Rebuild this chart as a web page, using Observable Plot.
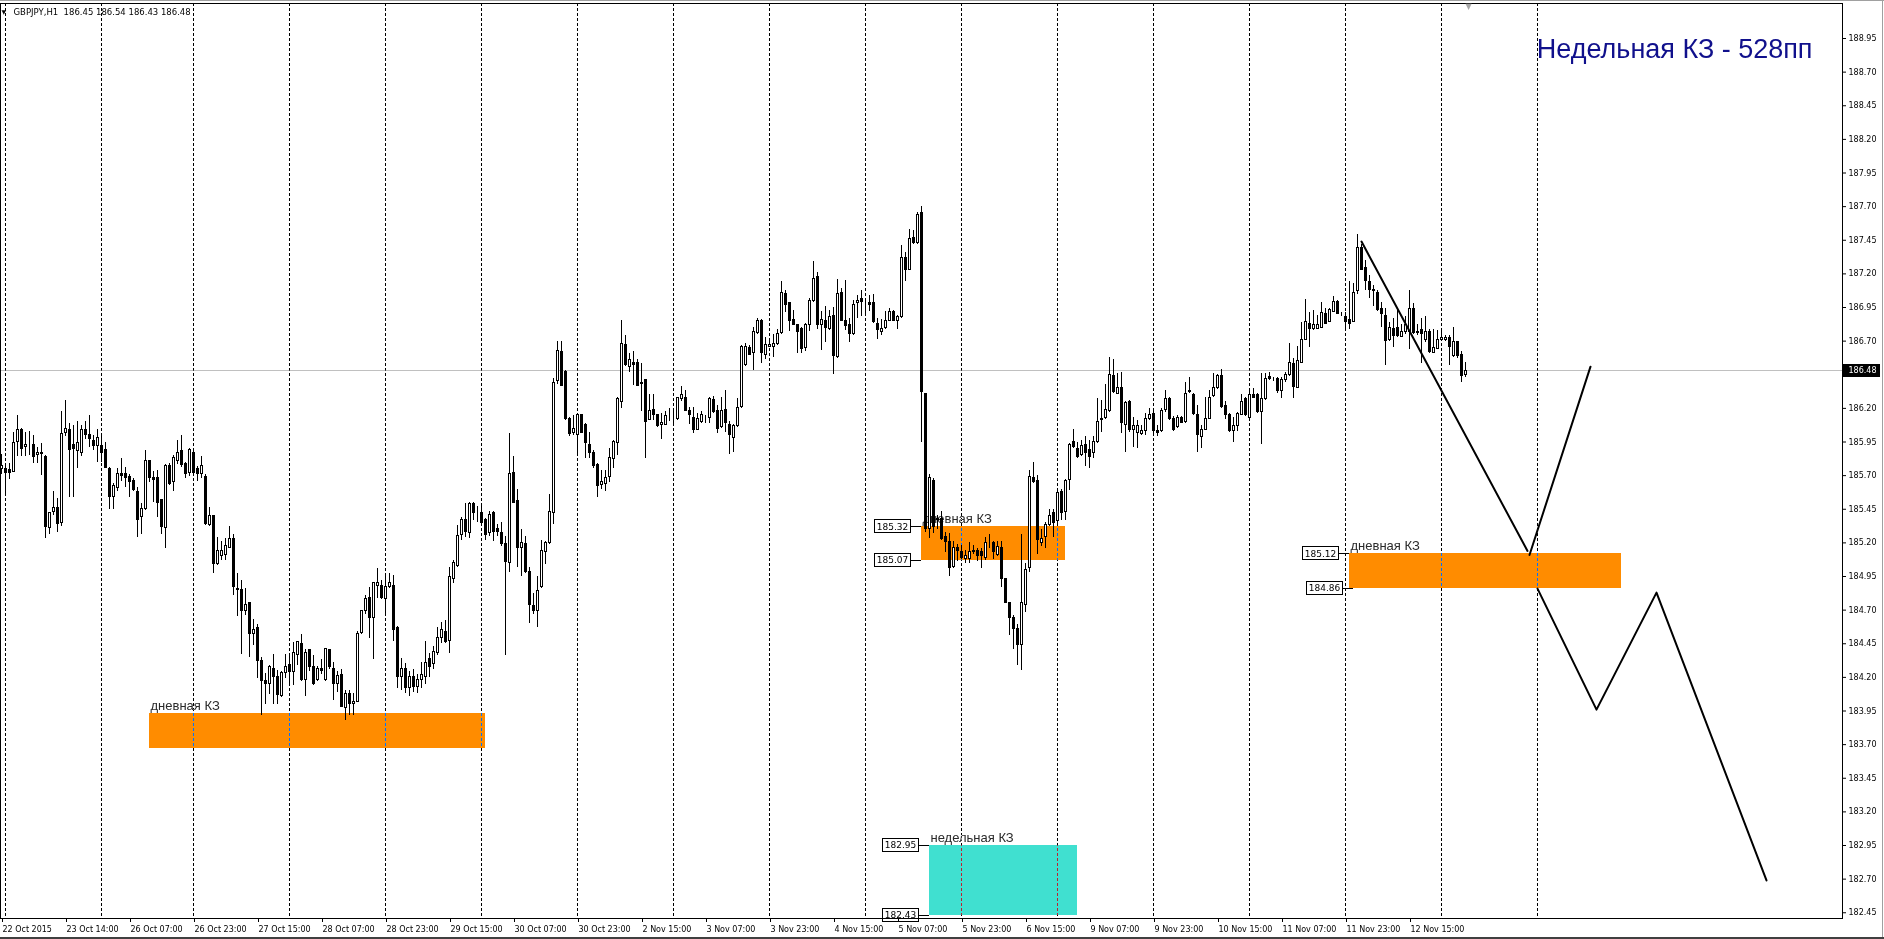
<!DOCTYPE html>
<html><head><meta charset="utf-8">
<script src="https://cdn.jsdelivr.net/npm/d3@7"></script>
<script src="https://cdn.jsdelivr.net/npm/@observablehq/plot@0.6"></script>
<style>
html,body{margin:0;padding:0;background:#fff;overflow:hidden}
#chart{position:relative;width:1884px;height:939px}
.b{position:absolute;background:#a0a0a0}
</style></head><body><div id="chart"></div>
<script>
const symbol = "GBPJPY,H1";
const openP = [
185.75,185.75,185.74,185.73,185.95,186.04,185.91,185.94,185.93,185.85,
185.87,185.84,185.31,185.43,185.46,185.35,186.02,186.04,185.93,185.88,
185.87,186.04,186.00,185.96,185.92,185.92,185.89,185.75,185.54,185.61,
185.71,185.71,185.69,185.66,185.58,185.39,185.45,185.81,185.68,185.68,
185.52,185.31,185.77,185.65,185.81,185.88,185.79,185.72,185.87,185.75,
185.71,185.69,185.33,185.40,185.04,185.10,185.11,185.16,185.23,184.86,
184.85,184.69,184.75,184.52,184.57,184.32,184.17,184.15,184.26,184.20,
184.06,184.23,184.29,184.24,184.37,184.45,184.18,184.40,184.28,184.18,
184.26,184.18,184.40,184.26,184.15,184.22,183.97,184.08,184.00,184.02,
184.53,184.69,184.79,184.64,184.88,184.88,184.78,184.87,184.88,184.57,
184.20,184.26,184.12,184.20,184.13,184.18,184.20,184.34,184.30,184.38,
184.49,184.54,184.47,184.93,185.03,185.26,185.37,185.27,185.49,185.42,
185.42,185.37,185.27,185.42,185.30,185.27,185.19,185.05,185.72,185.51,
185.16,185.19,184.98,184.73,184.69,184.87,185.13,185.20,185.42,186.40,
186.62,186.47,186.12,186.02,186.00,186.15,186.08,185.93,185.87,185.78,
185.63,185.64,185.69,185.82,185.94,186.25,186.67,186.51,186.54,186.54,
186.39,186.41,186.11,186.19,186.15,186.08,186.08,186.13,186.12,186.12,
186.27,186.28,186.18,186.13,186.04,186.10,186.13,186.13,186.26,186.18,
186.06,186.19,186.08,185.98,186.07,186.21,186.52,186.65,186.61,186.76,
186.85,186.60,186.66,186.66,186.68,186.76,187.05,186.98,186.86,186.82,
186.79,186.65,186.82,187.00,187.18,186.82,186.85,186.79,186.89,186.58,
187.06,186.85,186.82,186.75,186.98,187.01,186.97,186.98,186.98,186.83,
186.77,186.80,186.85,186.92,186.85,186.88,187.32,187.23,187.47,187.43,
187.65,186.31,185.30,185.66,185.37,185.38,185.24,185.21,185.02,185.16,
185.13,185.08,185.08,185.13,185.14,185.13,185.09,185.20,185.20,185.11,
185.16,184.93,184.75,184.64,184.56,184.44,184.74,185.01,185.68,185.66,
185.20,185.24,185.33,185.42,185.36,185.58,185.43,185.67,185.95,185.90,
185.85,185.93,185.89,185.87,185.95,186.12,186.13,186.18,186.44,186.31,
186.35,186.08,186.25,186.04,186.02,186.01,186.03,186.12,186.16,186.03,
186.03,186.19,186.27,186.12,186.06,186.13,186.10,186.33,186.30,186.15,
185.99,186.04,186.12,186.29,186.35,186.44,186.22,186.15,186.03,186.07,
186.15,186.27,186.13,186.30,186.30,186.17,186.27,186.43,186.42,186.42,
186.33,186.41,186.45,186.53,186.35,186.54,186.71,186.83,186.79,186.79,
186.80,186.90,186.84,186.92,186.99,186.89,186.88,186.86,186.84,187.07,
187.39,187.24,187.14,187.07,187.06,186.94,186.89,186.71,186.79,186.80,
186.73,186.77,186.77,186.94,186.77,186.78,186.71,186.77,186.61,186.64,
186.71,186.71,186.72,186.59,186.69,186.60,186.45];
const highP = [
185.86,185.78,185.79,186.02,186.15,186.05,186.02,186.03,186.00,185.91,
185.94,185.85,185.42,185.58,185.53,186.18,186.26,186.09,186.07,186.10,
186.07,186.10,186.15,186.00,186.04,186.00,185.95,185.76,185.64,185.75,
185.83,185.76,185.71,185.68,185.61,185.49,185.89,185.81,185.73,185.74,
185.52,185.78,185.79,185.85,185.96,186.00,185.80,185.90,185.89,185.77,
185.84,185.71,185.46,185.40,185.24,185.21,185.23,185.32,185.26,184.97,
184.92,184.86,184.76,184.63,184.59,184.35,184.23,184.29,184.37,184.25,
184.24,184.37,184.37,184.46,184.46,184.52,184.41,184.41,184.36,184.28,
184.33,184.41,184.40,184.31,184.24,184.26,184.10,184.10,184.08,184.54,
184.70,184.81,184.87,184.90,185.01,184.92,184.97,184.97,184.96,184.58,
184.34,184.30,184.24,184.26,184.22,184.31,184.47,184.38,184.43,184.57,
184.61,184.62,185.02,185.07,185.33,185.39,185.49,185.50,185.50,185.47,
185.47,185.38,185.43,185.43,185.34,185.35,185.25,186.01,185.84,185.60,
185.30,185.25,185.02,184.82,184.95,185.22,185.21,185.56,186.42,186.70,
186.70,186.48,186.13,186.15,186.15,186.15,186.09,186.02,185.89,185.79,
185.74,185.74,185.90,185.96,186.28,186.85,186.74,186.61,186.62,186.56,
186.53,186.41,186.30,186.30,186.15,186.16,186.18,186.20,186.20,186.28,
186.36,186.33,186.21,186.21,186.16,186.18,186.15,186.28,186.29,186.22,
186.28,186.33,186.10,186.08,186.27,186.67,186.68,186.67,186.80,186.87,
186.86,186.73,186.72,186.75,186.79,187.14,187.08,186.99,186.93,186.82,
186.80,186.83,187.02,187.29,187.21,186.92,186.96,186.93,186.95,187.16,
187.09,187.15,186.87,187.00,187.04,187.08,187.00,187.04,187.05,186.87,
186.86,186.92,186.94,186.93,186.89,187.41,187.36,187.53,187.52,187.66,
187.70,186.31,185.71,185.68,185.40,185.43,185.28,185.27,185.21,185.19,
185.18,185.14,185.20,185.18,185.16,185.16,185.24,185.26,185.21,185.21,
185.21,184.93,184.76,184.66,184.59,185.26,185.05,185.74,185.80,185.70,
185.30,185.35,185.45,185.45,185.59,185.60,185.67,185.94,186.04,185.95,
185.96,185.99,185.96,185.99,186.27,186.26,186.38,186.58,186.56,186.46,
186.47,186.25,186.26,186.13,186.11,186.07,186.16,186.20,186.18,186.07,
186.20,186.33,186.28,186.14,186.15,186.14,186.39,186.43,186.31,186.22,
186.07,186.28,186.33,186.46,186.45,186.49,186.25,186.16,186.13,186.17,
186.30,186.28,186.35,186.35,186.31,186.46,186.46,186.47,186.43,186.43,
186.43,186.47,186.68,186.57,186.66,186.84,187.01,186.91,186.93,186.89,
186.99,186.94,186.94,187.03,187.00,186.91,186.91,187.14,187.13,187.49,
187.42,187.30,187.19,187.11,187.08,186.99,186.94,186.84,186.87,186.94,
186.82,186.88,187.08,186.98,186.82,186.87,186.88,186.79,186.79,186.78,
186.77,186.74,186.74,186.80,186.69,186.62,186.54];
const lowP = [
185.71,185.57,185.67,185.72,185.84,185.84,185.84,185.85,185.79,185.79,
185.70,185.23,185.26,185.40,185.28,185.32,185.99,185.54,185.54,185.75,
185.84,185.97,185.91,185.89,185.80,185.80,185.75,185.45,185.45,185.58,
185.66,185.61,185.54,185.58,185.24,185.26,185.44,185.65,185.50,185.39,
185.26,185.16,185.63,185.58,185.78,185.76,185.68,185.69,185.70,185.66,
185.68,185.33,185.32,184.97,185.03,185.07,185.07,185.16,184.81,184.65,
184.37,184.66,184.35,184.44,184.19,183.92,184.00,184.07,184.00,184.00,
184.05,184.19,184.14,184.14,184.29,184.17,184.06,184.24,184.14,184.17,
184.22,184.17,184.26,184.03,184.09,183.98,183.88,183.92,183.92,184.01,
184.52,184.67,184.49,184.33,184.79,184.78,184.67,184.86,184.47,184.12,
184.10,184.08,184.06,184.09,184.08,184.12,184.15,184.20,184.26,184.36,
184.45,184.45,184.38,184.90,185.02,185.22,185.24,185.23,185.37,185.35,
185.33,185.22,185.25,185.21,185.25,185.17,184.36,184.98,185.49,185.02,
184.95,184.97,184.60,184.67,184.57,184.86,185.04,185.19,185.34,186.38,
186.37,186.11,185.99,186.00,185.84,186.01,185.83,185.83,185.75,185.54,
185.60,185.58,185.65,185.75,185.85,186.20,186.51,186.47,186.37,186.37,
186.18,185.83,186.11,186.11,186.06,185.97,186.08,186.10,186.08,186.11,
186.25,186.18,186.08,186.01,186.04,186.09,186.09,186.09,186.16,186.01,
186.05,186.02,185.86,185.87,186.06,186.20,186.51,186.59,186.48,186.75,
186.53,186.56,186.66,186.58,186.67,186.75,186.91,186.77,186.82,186.61,
186.61,186.62,186.77,186.99,186.79,186.63,186.69,186.78,186.45,186.57,
186.85,186.78,186.69,186.74,186.87,186.88,186.89,186.92,186.83,186.71,
186.74,186.79,186.85,186.85,186.79,186.87,187.14,187.23,187.42,187.42,
185.95,185.28,185.23,185.27,185.30,185.22,185.13,184.95,185.01,185.06,
185.08,185.05,185.05,185.11,185.06,185.01,185.07,185.16,185.08,185.10,
184.87,184.75,184.51,184.41,184.29,184.25,184.68,184.98,185.64,185.11,
185.17,185.16,185.32,185.24,185.33,185.37,185.37,185.59,185.90,185.83,
185.84,185.77,185.75,185.83,185.94,186.02,186.12,186.17,186.31,186.30,
186.01,185.87,186.02,185.91,185.90,186.00,186.00,186.11,185.99,185.99,
186.02,186.17,186.11,186.03,186.05,186.09,186.09,186.31,186.15,185.87,
185.90,186.04,186.12,186.28,186.34,186.20,186.12,186.02,185.95,186.03,
186.15,186.14,186.12,186.27,186.16,185.93,186.26,186.41,186.40,186.31,
186.27,186.39,186.44,186.27,186.35,186.53,186.71,186.65,186.78,186.79,
186.80,186.82,186.84,186.91,186.90,186.88,186.79,186.79,186.84,187.05,
187.23,187.08,187.02,186.96,186.92,186.80,186.52,186.70,186.65,186.73,
186.73,186.75,186.64,186.75,186.74,186.53,186.69,186.61,186.61,186.64,
186.70,186.70,186.52,186.58,186.57,186.39,186.43];
const closeP = [
185.77,185.72,185.72,185.94,186.04,185.90,185.93,185.94,185.84,185.87,
185.86,185.32,185.42,185.46,185.34,186.01,186.05,185.89,185.90,185.94,
186.04,186.00,185.97,185.92,185.98,185.87,185.76,185.54,185.62,185.71,
185.70,185.68,185.65,185.59,185.37,185.45,185.81,185.68,185.67,185.50,
185.32,185.77,185.64,185.83,185.87,185.78,185.71,185.89,185.72,185.71,
185.77,185.34,185.40,185.04,185.14,185.14,185.18,185.23,184.87,184.85,
184.69,184.74,184.52,184.55,184.32,184.17,184.15,184.28,184.20,184.07,
184.23,184.28,184.24,184.38,184.46,184.18,184.38,184.28,184.15,184.26,
184.25,184.41,184.28,184.15,184.21,183.98,184.08,184.00,184.02,184.52,
184.69,184.78,184.64,184.90,184.90,184.79,184.87,184.90,184.55,184.20,
184.26,184.12,184.20,184.13,184.18,184.22,184.31,184.28,184.39,184.49,
184.55,184.46,184.95,185.05,185.25,185.37,185.28,185.49,185.42,185.42,
185.35,185.26,185.41,185.28,185.28,185.19,185.06,185.71,185.50,185.16,
185.20,184.98,184.74,184.69,184.84,185.14,185.20,185.43,186.39,186.63,
186.37,186.12,186.01,186.05,186.15,186.02,185.94,185.87,185.77,185.62,
185.65,185.68,185.83,185.95,186.27,186.68,186.52,186.56,186.52,186.37,
186.38,186.10,186.18,186.15,186.07,186.09,186.14,186.13,186.12,186.28,
186.30,186.18,186.15,186.04,186.12,186.15,186.13,186.27,186.17,186.05,
186.18,186.09,186.00,186.07,186.20,186.66,186.66,186.60,186.77,186.85,
186.61,186.67,186.67,186.68,186.75,187.06,186.97,186.85,186.82,186.77,
186.64,186.82,187.00,187.16,186.82,186.86,186.80,186.88,186.59,187.05,
186.85,186.81,186.75,186.97,187.00,186.99,186.97,186.97,186.84,186.78,
186.79,186.85,186.92,186.85,186.88,187.32,187.23,187.46,187.43,187.64,
186.32,185.30,185.68,185.32,185.38,185.23,185.21,185.01,185.16,185.14,
185.09,185.10,185.13,185.14,185.10,185.10,185.20,185.20,185.13,185.17,
184.93,184.75,184.64,184.56,184.44,184.75,185.00,185.69,185.65,185.22,
185.23,185.33,185.40,185.35,185.57,185.42,185.66,185.93,185.91,185.84,
185.92,185.87,185.84,185.95,186.10,186.11,186.19,186.45,186.32,186.35,
186.09,186.24,186.04,186.07,186.07,186.03,186.12,186.15,186.03,186.02,
186.18,186.27,186.12,186.04,186.13,186.09,186.31,186.32,186.16,186.00,
186.04,186.12,186.28,186.35,186.44,186.21,186.15,186.03,186.07,186.16,
186.25,186.15,186.30,186.28,186.17,186.27,186.42,186.42,186.42,186.33,
186.41,186.45,186.54,186.36,186.55,186.71,186.84,186.79,186.82,186.82,
186.91,186.83,186.93,186.99,186.90,186.89,186.84,186.83,187.06,187.39,
187.23,187.15,187.08,187.08,186.93,186.90,186.70,186.80,186.74,186.74,
186.77,186.82,186.94,186.76,186.76,186.75,186.77,186.62,186.65,186.71,
186.72,186.72,186.66,186.69,186.59,186.44,186.48];

const tickBars = [-1,15,31,47,63,79,95,111,127,143,159,175,191,207,223,239,255,271,287,303,319,335,351];
const tickLabels = ["22 Oct 2015","23 Oct 14:00","26 Oct 07:00","26 Oct 23:00","27 Oct 15:00","28 Oct 07:00","28 Oct 23:00","29 Oct 15:00","30 Oct 07:00","30 Oct 23:00","2 Nov 15:00","3 Nov 07:00","3 Nov 23:00","4 Nov 15:00","5 Nov 07:00","5 Nov 23:00","6 Nov 15:00","9 Nov 07:00","9 Nov 23:00","10 Nov 15:00","11 Nov 07:00","11 Nov 23:00","12 Nov 15:00"];
const dayBars = [1,25,48,72,96,120,144,168,192,216,240,264,288,312,336,360,384];
const yTicks = [182.45,182.70,182.95,183.20,183.45,183.70,183.95,184.20,184.45,184.70,184.95,185.20,185.45,185.70,185.95,186.20,186.45,186.70,186.95,187.20,187.45,187.70,187.95,188.20,188.45,188.70,188.95];
const bidPrice = 186.48;

const zoneLabels = ["дневная КЗ","дневная КЗ","дневная КЗ","недельная КЗ"];
const zoneStart = [37,230,337,232];
const zoneEnd = [121,266,405,269];
const zoneTop = [183.93,185.32,185.12,182.95];
const zoneBottom = [183.67,185.07,184.86,182.43];
const zoneColor = ["#FF8C00","#FF8C00","#FF8C00","#40E0D0"];

const tagPrice = [185.32,185.07,185.12,184.86,182.95,182.43];
const tagBar = [230,230,337,338,232,232];

const fcId = ["a","a","b","b","c","c","c","c"];
const fcBar = [340,381.5,382,397.25,384,398.75,413.75,441.25];
const fcPrice = [187.44,185.14,185.11,186.51,184.86,183.96,184.83,182.69];

const title = "Недельная КЗ - 528пп";

// ---- build ----
const n = Math.min(openP.length, highP.length, lowP.length, closeP.length);
const bars = d3.range(n).map(i => ({b: i, o: openP[i], h: highP[i], l: lowP[i], c: closeP[i]}));
const zones = zoneStart.map((s, i) => ({x1: s, x2: zoneEnd[i], y1: zoneBottom[i], y2: zoneTop[i], fill: zoneColor[i], label: zoneLabels[i]}));
const tags = tagPrice.map((p, i) => ({p, b: tagBar[i]}));
const fc = fcBar.map((b, i) => ({b, p: fcPrice[i], id: fcId[i]}));
const labelOf = new Map(tickBars.map((b, i) => [b, tickLabels[i]]));
const last = bars[bars.length - 1];
const head = `${symbol}\u00a0 ${last.o.toFixed(2)} ${last.h.toFixed(2)} ${last.l.toFixed(2)} ${last.c.toFixed(2)}`;

const W = 1884, H = 939, mL = 0, mR = 42, mT = 3, mB = 21;
const pxPerBar = 4, pxPerUnit = 134.5;
const xDom = [-0.25, -0.25 + (W - mL - mR) / pxPerBar];
const yDom = [188.95 - (H - mB - 38) / pxPerUnit, 188.95 + (38 - mT) / pxPerUnit];
const hb = 6.5 / pxPerUnit; // half-height of price tags
const sans = "'DejaVu Sans', Tahoma, sans-serif";
const arial = "'Liberation Sans', Arial, sans-serif";

const chart = Plot.plot({
  width: W, height: H,
  marginLeft: mL, marginRight: mR, marginTop: mT, marginBottom: mB,
  style: {fontFamily: sans, fontSize: "8px", background: "white", color: "black", overflow: "visible"},
  x: {domain: xDom},
  y: {domain: yDom},
  marks: [
    Plot.frame({fill: "white"}),
    Plot.ruleY([bidPrice], {stroke: "#c0c0c0", shapeRendering: "crispEdges"}),
    Plot.rect(zones, {x1: "x1", x2: "x2", y1: "y1", y2: "y2", fill: "fill", shapeRendering: "crispEdges"}),
    Plot.text(zones, {x: "x1", y: "y2", text: "label", textAnchor: "start", lineAnchor: "bottom", dy: -4, dx: 1, fontFamily: arial, fontSize: 13, fill: "#2a2a2a"}),
    Plot.ruleX(dayBars, {x: d => d, stroke: "white", strokeDasharray: "3,2", mixBlendMode: "difference", shapeRendering: "crispEdges"}),
    Plot.ruleX(bars, {x: "b", y1: "l", y2: "h", stroke: "black", shapeRendering: "crispEdges"}),
    Plot.rect(bars, {x1: d => d.b - 0.25, x2: d => d.b + 0.25, y1: "o", y2: "c", fill: d => d.c >= d.o ? "white" : "black", stroke: "black", shapeRendering: "crispEdges"}),
    Plot.ruleY(tags, {y: "p", x1: d => d.b - 2.75, x2: "b", stroke: "black", shapeRendering: "crispEdges"}),
    Plot.rect(tags, {x1: d => d.b - 11.75, x2: d => d.b - 2.75, y1: d => d.p - hb, y2: d => d.p + hb, fill: "white", stroke: "black", shapeRendering: "crispEdges"}),
    Plot.text(tags, {x: d => d.b - 7.25, y: "p", text: d => d.p.toFixed(2), fontFamily: sans, fontSize: 9, fill: "black"}),
    Plot.line(fc, {x: "b", y: "p", z: "id", stroke: "black", strokeWidth: 2}),
    Plot.frame({stroke: "black", shapeRendering: "crispEdges"}),
    Plot.axisY({anchor: "right", ticks: yTicks, tickFormat: d => d.toFixed(2), tickSize: 3, tickPadding: 3, label: null, fontFamily: sans, fontSize: 8}),
    Plot.axisX({anchor: "bottom", ticks: tickBars, tickFormat: d => labelOf.get(d), tickSize: 4, tickPadding: 4, textAnchor: "start", dx: 5, label: null, fontFamily: sans, fontSize: 8}),
    Plot.rect([bidPrice], {x1: xDom[1], x2: xDom[1] + 9.5, y1: d => d - hb, y2: d => d + hb, fill: "black", shapeRendering: "crispEdges"}),
    Plot.text([bidPrice], {x: xDom[1] + 1.5, y: d => d, text: d => d.toFixed(2), textAnchor: "start", fill: "white", fontFamily: sans, fontSize: 8}),
    Plot.text([title], {frameAnchor: "top-right", textAnchor: "end", lineAnchor: "top", dx: -30, dy: 35, fontFamily: arial, fontSize: 27, fill: "#10108c"}),
    Plot.text([head], {frameAnchor: "top-left", textAnchor: "start", lineAnchor: "top", dx: 13, dy: 5, fontFamily: sans, fontSize: 8.5, fill: "black"}),
    Plot.text(["\u25BC"], {frameAnchor: "top-left", textAnchor: "start", lineAnchor: "top", dx: 1, dy: 6, fontFamily: sans, fontSize: 6, fill: "black"}),
    Plot.text([last.b + 0.75], {x: d => d, frameAnchor: "top", lineAnchor: "top", dy: 0, text: () => "\u25BC", fontFamily: sans, fontSize: 8, fill: "#a8a8a8"})
  ]
});
const host = document.getElementById("chart");
host.appendChild(chart);
const edges = [
  {left: "0px", top: "0px", width: W + "px", height: "1px"},
  {left: (W - 2) + "px", top: "0px", width: "1px", height: H + "px"},
  {left: "0px", top: (H - 2) + "px", width: W + "px", height: "2px", background: "#404040"}
];
for (const e of edges) {
  const d = document.createElement("div");
  d.className = "b";
  Object.assign(d.style, e);
  host.appendChild(d);
}
</script>
</body></html>
